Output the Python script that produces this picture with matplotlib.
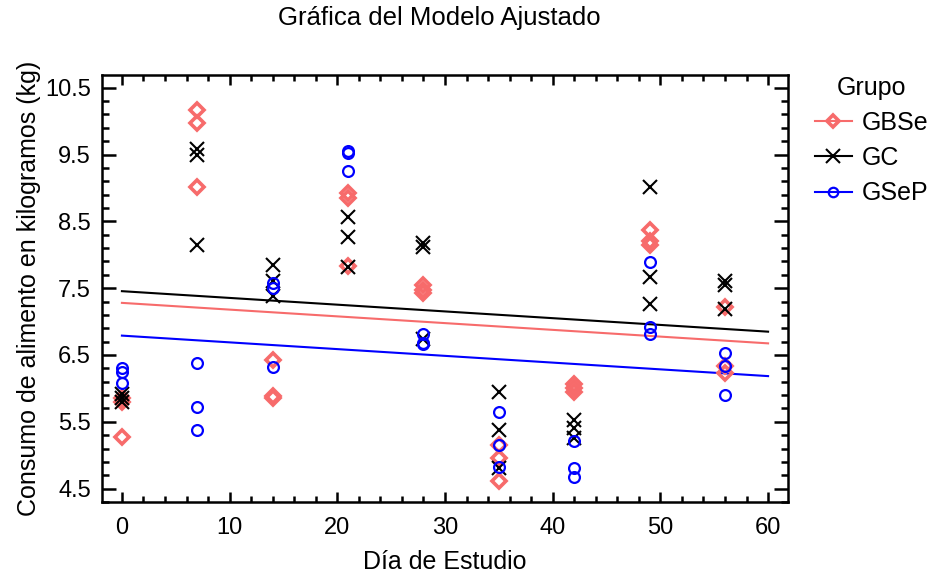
import matplotlib
matplotlib.use("Agg")
import matplotlib.pyplot as plt
from matplotlib.lines import Line2D
import numpy as np

plt.rcParams['font.family'] = ['Liberation Sans', 'DejaVu Sans']

days = [0, 7, 14, 21, 28, 35, 42, 49, 56]
groups = ["GBSe", "GC", "GSeP"]

gbse_vals = [
    [5.86, 5.80, 5.28],
    [10.17, 9.97, 9.02],
    [6.43, 5.88, 5.86],
    [8.92, 8.85, 7.83],
    [7.55, 7.48, 7.43],
    [5.16, 4.96, 4.61],
    [6.07, 6.00, 5.95],
    [8.37, 8.20, 8.15],
    [7.22, 6.33, 6.23],
]
gc_vals = [
    [5.92, 5.85, 5.80],
    [9.58, 9.50, 8.14],
    [7.84, 7.60, 7.38],
    [8.56, 8.26, 7.82],
    [8.17, 8.12, 6.74],
    [5.95, 5.38, 4.81],
    [5.53, 5.41, 5.26],
    [9.01, 7.66, 7.27],
    [7.60, 7.55, 7.19],
]
gsep_vals = [
    [6.30, 6.25, 6.08],
    [6.38, 5.72, 5.37],
    [7.57, 7.50, 6.32],
    [9.56, 9.52, 9.25],
    [6.82, 6.68, 6.66],
    [5.65, 5.16, 4.83],
    [5.21, 4.81, 4.68],
    [7.89, 6.92, 6.82],
    [6.53, 6.33, 5.90],
]

# fitted model (common slope)
fit_intercepts = [7.28, 7.455, 6.79]
fit_slope = -0.0101
fit_range = [0, 60]

colors = ["#F76B6B", "#000000", "#0000FF"]
markers = ["D", "x", "o"]
msizes = [7.5, 10, 7.8]
mews = [2.6, 1.5, 1.6]

fig = plt.figure(figsize=(9.36, 5.79), dpi=100)
ax = fig.add_axes([102/936, 1 - 502/579, (788-102)/936, (502-75)/579])

all_vals = [gbse_vals, gc_vals, gsep_vals]
for g, vals, c, m, ms, mew, b in zip(groups, all_vals, colors, markers, msizes, mews, fit_intercepts):
    xs = np.repeat(days, [len(v) for v in vals])
    ys = np.concatenate(vals)
    if m == "x":
        ax.plot(xs, ys, linestyle='none', marker=m, markersize=ms, markeredgewidth=mew,
                color=c, zorder=3)
    else:
        ax.plot(xs, ys, linestyle='none', marker=m, markersize=ms, markeredgewidth=mew,
                markerfacecolor='none', markeredgecolor=c, zorder=3)
    xl = np.array(fit_range)
    ax.plot(xl, b + fit_slope * xl, color=c, linewidth=1.5, zorder=2)

ax.set_xlim(-1.85, 61.85)
ax.set_ylim(4.31, 10.69)
ax.set_xticks(np.arange(0, 61, 10))
ax.set_xticks(np.arange(0, 61, 2), minor=True)
ax.set_yticks(np.arange(4.5, 10.6, 1.0))
ax.set_yticks(np.arange(4.3, 10.7, 0.2), minor=True)
ax.set_yticklabels(["%.1f" % v for v in np.arange(4.5, 10.6, 1.0)])

for s in ax.spines.values():
    s.set_linewidth(1.8)

ax.tick_params(axis='both', which='both', direction='in', top=True, right=True,
               width=1.8, labelsize=17)
ax.tick_params(axis='x', which='major', length=7, pad=11)
ax.tick_params(axis='x', which='minor', length=4)
ax.tick_params(axis='y', which='major', length=10, pad=8)
ax.tick_params(axis='y', which='minor', length=5)

ax.set_xlabel("Día de Estudio", fontsize=18, labelpad=8)
ax.set_ylabel("Consumo de alimento en kilogramos (kg)", fontsize=18, labelpad=3)
fig.text(439/936, 1 - 18/579, "Gráfica del Modelo Ajustado", fontsize=18.5,
         ha='center', va='center')

handles = []
for g, c, m, ms, mew in zip(groups, colors, markers, msizes, mews):
    if m == "x":
        h = Line2D([], [], color=c, marker=m, markersize=ms, markeredgewidth=mew, linewidth=1.5)
    else:
        h = Line2D([], [], color=c, marker=m, markersize=ms - 1, markeredgewidth=mew,
                   markerfacecolor='none', markeredgecolor=c, linewidth=1.5)
    handles.append(h)
leg = fig.legend(handles, groups, title="Grupo", loc='upper left',
                 bbox_to_anchor=(807/936, 1 - 68/579), frameon=False, fontsize=18,
                 title_fontsize=18, handlelength=1.5, handletextpad=0.4,
                 labelspacing=0.45, borderaxespad=0, borderpad=0.3)

fig.savefig("out.png", dpi=100)
